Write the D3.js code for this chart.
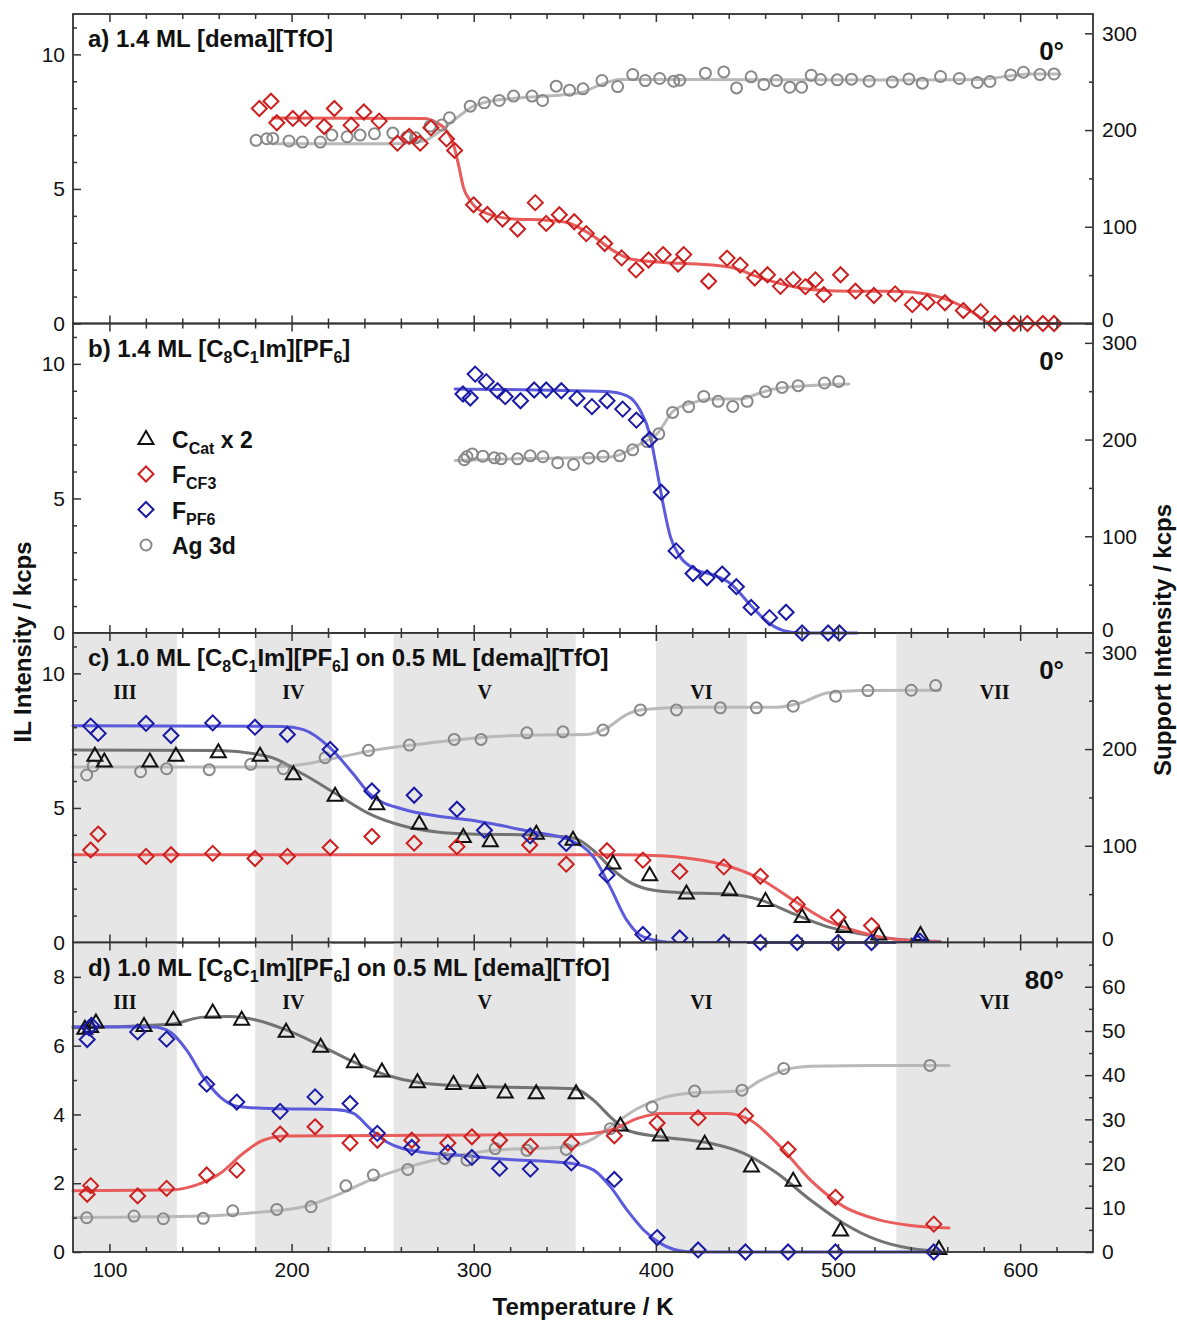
<!DOCTYPE html>
<html><head><meta charset="utf-8">
<script src="https://cdn.jsdelivr.net/npm/d3@7"></script>
<style>body{margin:0;background:#fff}svg{display:block;font-family:"Liberation Sans",Arial,sans-serif}</style>
</head><body><svg id="chart" width="1177" height="1321"></svg>
<script>
// ---------------- DATA ----------------
const xDomain=[80,640];
const xMajorTicks=[100,200,300,400,500,600];
const xMinorTicks=[120,140,160,180,220,240,260,280,320,340,360,380,420,440,460,480,520,540,560,580,620];
const stageBounds=[[80,137],[180,222],[256,356],[400,450],[532,640]];
const stageLabels=["III","IV","V","VI","VII"];
const legendLabels=[["C",["Cat"]," x 2"],["F",["CF3"]],["F",["PF6"]],["Ag 3d"]];

// panel a
const a_FCF3=[[182.3,7.99],[188.7,8.26],[191.9,7.46],[200.7,7.62],[207.6,7.62],[217.9,7.32],[223.5,7.99],[232.7,7.37],[239.7,7.86],[248.1,7.52],[258.1,6.70],[264.6,6.95],[270.6,6.70],[276.5,7.27],[285.1,6.86],[289.5,6.43],[299.9,4.41],[307.5,4.05],[315.8,3.88],[324.1,3.51],[333.8,4.49],[339.8,3.72],[347,4.04],[355.2,3.78],[361.8,3.34],[371.9,2.97],[381.2,2.44],[389.1,1.99],[396,2.36],[404,2.56],[412.2,2.21],[415.3,2.56],[429,1.57],[439.1,2.43],[446.3,2.17],[454.3,1.69],[461.3,1.81],[468.4,1.38],[475.4,1.64],[482.1,1.37],[487.6,1.62],[492.2,1.07],[501.4,1.81],[509.6,1.20],[519.7,1.04],[531.4,1.10],[540.8,0.70],[549,0.79],[558.7,0.77],[568.8,0.48],[578.3,0.44],[586.2,0],[596.6,0],[604,0],[612.5,0],[618.6,0]];
const a_FCF3_fit=[[189.7,7.64],[272.4,7.62],[279.8,7.46],[285.3,7.15],[288.9,6.65],[291.6,5.91],[294.4,5.05],[298.1,4.56],[303.6,4.2],[321.9,3.88],[340.2,3.84],[351.2,3.75],[364,3.32],[376.8,2.70],[386,2.40],[404.3,2.27],[422.6,2.21],[440.9,2.09],[459.2,1.66],[477.6,1.34],[495.9,1.22],[514.2,1.20],[534.4,1.19],[541.6,1.16],[556.3,0.97],[567.3,0.67],[576.5,0.30],[582,0.05],[586,0],[622,0]];
const a_Ag=[[180.5,189.4],[186.4,191],[189.7,191.4],[198.6,188.7],[205.9,187.6],[215.8,187.6],[222.1,194.8],[230.5,193.1],[237.6,194.8],[245.5,196.2],[255.6,196.9],[263.3,192.8],[268,192],[276.1,204.1],[282.5,205.2],[286.7,212.7],[298.1,224.7],[305.8,228.2],[314,230.6],[321.9,235.1],[332,235.1],[337.8,230.6],[345.3,245.4],[352.6,241.2],[360,242.6],[370.4,251.2],[379,245],[387.3,257.4],[394.2,251.2],[402.1,253.3],[409.8,250.5],[413.1,251.5],[427.2,258.8],[437.3,260.1],[444.3,243.6],[452.3,255],[459.3,247.1],[466.2,251.2],[473.5,244.3],[480,244.3],[485.3,256.7],[490.4,252.3],[499.6,251.9],[507.4,252.6],[517.1,250.5],[529.8,249.8],[538.9,252.9],[546.3,248.5],[556.3,255.4],[566.6,253.3],[576.5,249.2],[583.4,250.2],[594.8,257],[601.8,259.8],[610.9,257.4],[618.6,258]];
const a_Ag_fit=[[189.7,185.9],[254.1,185.9],[272.4,188.7],[281.6,199],[290.8,212.7],[299.9,224.7],[307.3,229.2],[321.9,232.7],[340.2,235.1],[358.5,238.5],[367.7,245.4],[380.5,252.3],[413.5,252.3],[534.4,251.8],[578.3,252.3],[592.9,255.7],[605.8,258],[622,258]];

// panel b
const b_FPF6=[[294.1,8.88],[298.1,8.73],[300.8,9.62],[306.9,9.34],[313.1,9.0],[317.3,8.78],[325.7,8.63],[333.2,9.03],[339.8,9.03],[348.1,9.0],[356.7,8.72],[364.9,8.41],[373.2,8.63],[381.8,8.32],[389.3,7.91],[396.6,7.19],[403,5.23],[411.1,3.05],[420.4,2.21],[428.1,2.05],[436.4,2.19],[444.2,1.72],[452.3,0.95],[462.4,0.57],[471.5,0.77],[480.3,0],[494.6,0],[500.8,0]];
const b_FPF6_fit=[[289.8,9.07],[373,8.97],[384.2,8.81],[391.5,8.26],[396.6,7.4],[400.6,6.04],[404.3,4.68],[408,3.57],[413.4,2.83],[420.8,2.4],[431.8,2.15],[440.9,1.84],[451.9,1.04],[461.1,0.42],[470.2,0.09],[480,0],[510.5,0]];
const b_Ag=[[294.8,179.1],[296.3,182.5],[299.2,185.2],[305,182.8],[311.3,181.1],[315,180.1],[324.1,180.1],[331,183.2],[338,182.2],[346.1,176],[354.8,174.2],[363.1,180.7],[371,182.8],[380.1,183.2],[387.3,189.4],[395.2,197.9],[401.6,205.9],[409.2,228.1],[418,234],[426.3,244.6],[434.2,239.5],[442.2,234.3],[450.1,239.5],[460.2,249.5],[469.3,253.9],[478.1,255.7],[492.6,258.5],[500.4,260.1]];
const b_Ag_fit=[[289.8,178.4],[330,180.5],[375,182],[391.5,195.6],[400.6,205.9],[409.8,229.9],[420.8,238.5],[431.8,242],[446.5,242],[455.6,247.1],[464.8,252.3],[483.1,255.7],[505.9,257.4]];

// panel c
const c_CCat=[[92,6.96],[97.2,6.74],[122.2,6.74],[136.5,6.96],[159.8,7.09],[182.7,6.96],[201,6.27],[223.9,5.47],[246.8,5.16],[270.1,4.43],[294.3,3.94],[309.1,3.78],[334.4,4.06],[354.5,3.84],[376.5,2.95],[396.6,2.52],[416.8,1.84],[440.5,1.96],[460.2,1.56],[480.3,0.97],[503.2,0.59],[522.4,0.32],[545.3,0.3]];
const c_CCat_fit=[[80,7.15],[160,7.13],[188.2,6.89],[206.5,6.25],[224.8,5.51],[243.1,4.77],[261.4,4.33],[279.8,4.11],[298.1,4.03],[330,4.0],[354.8,3.88],[365.9,3.41],[375,2.79],[384.2,2.30],[395.2,1.99],[411.6,1.86],[439,1.80],[457.4,1.58],[475.7,1.06],[494,0.59],[512.3,0.32],[530,0.14],[556,0.04]];
const c_FCF3=[[89.7,3.44],[93.8,4.03],[120.1,3.20],[133.8,3.26],[156.7,3.31],[179.9,3.12],[197.7,3.20],[221.2,3.53],[244.1,3.94],[267.3,3.69],[290.8,3.56],[330.7,3.62],[350.8,2.91],[373.2,3.41],[392.9,3.06],[413.1,2.64],[437.3,2.81],[457.4,2.46],[477.6,1.41],[500.1,0.94],[518.4,0.63]];
const c_FCF3_fit=[[80,3.26],[380,3.26],[402.4,3.22],[420.8,3.10],[439,2.85],[457.4,2.36],[475.7,1.56],[494,0.81],[512.3,0.38],[523.3,0.2],[540,0.07],[556,0.02]];
const c_FPF6=[[89.7,8.04],[93.8,7.77],[120.1,8.14],[133.8,7.69],[156.7,8.16],[179.9,8.0],[197.7,7.73],[221.2,7.17],[244.1,5.63],[267.3,5.47],[290.8,4.95],[305.9,4.17],[331,3.96],[350.8,3.68],[373.2,2.51],[392.9,0.30],[413.1,0.17],[437.3,0],[457.4,0],[477.6,0],[500.1,0],[518.4,0],[543.5,0],[545,0.05]];
const c_FPF6_fit=[[80,8.05],[195,8.03],[206.5,7.91],[221.2,7.23],[234,6.25],[243.1,5.51],[261.4,4.95],[279.8,4.70],[298.1,4.55],[310.9,4.40],[329.2,4.15],[353,3.80],[365.9,3.16],[375,2.05],[384.2,0.81],[393.3,0.2],[411,0],[556,0]];
const c_Ag=[[87.5,173.2],[91.1,182.5],[117.1,176.6],[131.4,179.7],[154.8,178.7],[177.6,184.2],[195.5,179.7],[218.4,191],[242.2,198.7],[264.7,204.1],[289.3,210],[304,210],[329.2,216.8],[349,217.8],[371,219.6],[391.5,240.5],[411.3,240.5],[435.4,242.6],[455.2,242.6],[475.4,244.3],[498.7,254.6],[516.4,260.5],[540.2,260.8],[553.6,265.7]];
const c_Ag_fit=[[80,181.4],[190,181.4],[206.5,184.2],[224.8,191],[243.1,197.9],[261.4,203.1],[279.8,207.2],[298.1,211],[329.2,214.4],[362,215.1],[373.2,222],[384.2,235.8],[393.3,240.9],[420.8,243.3],[466.6,243.3],[479.4,247.7],[494,258],[512.3,260.5],[556,260.8]];

// panel d
const d_CCat=[[86.5,6.51],[89.7,6.56],[92.6,6.69],[119,6.59],[135.1,6.77],[156.7,6.98],[172.6,6.77],[197,6.42],[216,5.98],[234.5,5.53],[249.6,5.26],[269.1,4.95],[288.9,4.90],[302.1,4.93],[317.3,4.65],[334.3,4.63],[356.2,4.63],[380.5,3.69],[402.5,3.40],[426.8,3.16],[452.5,2.50],[475.4,2.09],[501.4,0.64],[555.4,0.1]];
const d_CCat_fit=[[80,6.52],[133.2,6.62],[151.5,6.83],[166.2,6.85],[180.9,6.74],[197.4,6.45],[215.7,6.01],[234,5.53],[252.3,5.14],[270.6,4.92],[298.1,4.82],[354.8,4.75],[365.9,4.41],[375,3.93],[384.2,3.54],[402.5,3.35],[430,3.16],[448.3,2.87],[466.6,2.29],[484.9,1.51],[503.2,0.83],[521.5,0.35],[540,0.1],[556.3,0.02]];
const d_FCF3=[[87.8,1.68],[89.7,1.93],[115.5,1.63],[131.4,1.85],[153.4,2.24],[169.9,2.38],[193.7,3.43],[212.9,3.64],[232.1,3.17],[247.1,3.25],[266,3.25],[285.8,3.17],[299,3.35],[314.2,3.25],[331.1,3.08],[353.6,3.17],[377.2,3.38],[400.7,3.75],[423.2,3.90],[449.2,3.96],[472.6,2.98],[498.6,1.59],[552.6,0.81]];
const d_FCF3_fit=[[80,1.78],[133.2,1.80],[147.9,1.95],[160.7,2.28],[173.5,2.87],[184.5,3.25],[197.4,3.37],[298.1,3.40],[356.7,3.42],[375,3.54],[389.7,3.88],[402.5,4.03],[439.1,4.03],[452,3.83],[466.6,3.16],[484.9,2.09],[503.2,1.32],[521.5,0.95],[540,0.77],[561,0.70]];
const d_FPF6=[[87.8,6.18],[88.9,6.52],[90.2,6.59],[115.5,6.40],[131.4,6.19],[153.4,4.88],[169.9,4.36],[193.7,4.09],[212.9,4.51],[232.1,4.32],[247.1,3.45],[266,3.04],[285.8,2.89],[299,2.75],[314.2,2.43],[331.1,2.41],[353.6,2.59],[377.2,2.11],[400.7,0.42],[423.2,0.06],[449.2,0],[472.6,0],[498.6,0],[552.6,0]];
const d_FPF6_fit=[[80,6.55],[124.1,6.54],[133.2,6.40],[142.4,5.87],[151.5,5.09],[160.7,4.51],[169.9,4.24],[188.2,4.17],[224.8,4.14],[234,4.03],[243.1,3.59],[252.3,3.20],[270.6,2.91],[298.1,2.79],[310.9,2.72],[353,2.58],[365.9,2.38],[375,1.90],[384.2,1.22],[393.3,0.64],[402.5,0.25],[417.1,0.01],[425,0],[556,0]];
const d_Ag=[[87.5,7.75],[113.5,8.13],[129.6,7.52],[151.5,7.61],[167.7,9.33],[191.9,9.64],[210.7,10.23],[229.8,14.97],[244.9,17.39],[263.8,18.67],[284,21.16],[296.3,20.77],[311.8,23.4],[329.2,23.0],[350.8,23.2],[375,27.9],[397.9,32.8],[421.3,36.4],[447.3,36.6],[470.2,41.5],[550.5,42.2]];
const d_Ag_fit=[[80,7.8],[151.5,8.13],[179,8.87],[206.5,10.23],[224.8,12.87],[243.1,16.26],[261.4,18.9],[279.8,20.93],[298.1,22.29],[310.9,23.0],[353,23.8],[365.9,25.7],[375,28.3],[389.7,32.4],[402.5,34.7],[420.8,36.0],[446.5,36.4],[457.4,38.8],[470.2,41.1],[484.9,42.0],[523.3,42.2],[561,42.2]];

// tick values per axis type
const leftTicksA=[0,5,10], leftMinorA=[1,2,3,4,6,7,8,9,11];
const rightTicksA=[0,100,200,300], rightMinorA=[50,150,250];
const leftTicksD=[0,2,4,6,8], leftMinorD=[1,3,5,7];
const rightTicksD=[0,10,20,30,40,50,60], rightMinorD=[5,15,25,35,45,55,65];

// ---------------- STYLE / LAYOUT ----------------
const col={
  red:{m:"#cc1f1f",l:"#e85c5c"},
  blue:{m:"#1a1aa6",l:"#5b5bdc"},
  black:{m:"#111111",l:"#737373"},
  gray:{m:"#888888",l:"#b9b9b9"}
};
const X0=73,X1=1093,TOP=14,PH=309.5;
const svg=d3.select("#chart");
const x=d3.scaleLinear().domain(xDomain).range([X0,X1]);

const panels=[
 {title:["a) 1.4 ML [dema][TfO]"],angle:"0°",yl:[0,11.5],yr:[0,320],lt:leftTicksA,lm:leftMinorA,rt:rightTicksA,rm:rightMinorA,stages:false,
  series:[{d:a_Ag,f:a_Ag_fit,s:"circle",c:"gray",r:true},{d:a_FCF3,f:a_FCF3_fit,s:"diamond",c:"red"}]},
 {title:["b) 1.4 ML [C",["8"],"C",["1"],"Im][PF",["6"],"]"],angle:"0°",yl:[0,11.5],yr:[0,320],lt:leftTicksA,lm:leftMinorA,rt:rightTicksA,rm:rightMinorA,stages:false,legend:true,
  series:[{d:b_Ag,f:b_Ag_fit,s:"circle",c:"gray",r:true},{d:b_FPF6,f:b_FPF6_fit,s:"diamond",c:"blue"}]},
 {title:["c) 1.0 ML [C",["8"],"C",["1"],"Im][PF",["6"],"] on 0.5 ML [dema][TfO]"],angle:"0°",yl:[0,11.5],yr:[0,320],lt:leftTicksA,lm:leftMinorA,rt:rightTicksA,rm:rightMinorA,stages:true,
  series:[{d:c_Ag,f:c_Ag_fit,s:"circle",c:"gray",r:true},{d:c_CCat,f:c_CCat_fit,s:"triangle",c:"black"},{d:c_FCF3,f:c_FCF3_fit,s:"diamond",c:"red"},{d:c_FPF6,f:c_FPF6_fit,s:"diamond",c:"blue"}]},
 {title:["d) 1.0 ML [C",["8"],"C",["1"],"Im][PF",["6"],"] on 0.5 ML [dema][TfO]"],angle:"80°",yl:[0,9],yr:[0,70],lt:leftTicksD,lm:leftMinorD,rt:rightTicksD,rm:rightMinorD,stages:true,
  series:[{d:d_Ag,f:d_Ag_fit,s:"circle",c:"gray",r:true},{d:d_CCat,f:d_CCat_fit,s:"triangle",c:"black"},{d:d_FCF3,f:d_FCF3_fit,s:"diamond",c:"red"},{d:d_FPF6,f:d_FPF6_fit,s:"diamond",c:"blue"}]}
];

function richText(sel,x0,y0,parts,size,subSize,shift){
  const t=sel.append("text").attr("x",x0).attr("y",y0).attr("font-size",size).attr("font-weight","bold").attr("fill","#111");
  let sub=false;
  parts.forEach(p=>{
    if(Array.isArray(p)){
      t.append("tspan").attr("dy",sub?0:shift).attr("font-size",subSize).text(p[0]);sub=true;
    }else{
      t.append("tspan").attr("dy",sub?-shift:0).text(p);sub=false;
    }
  });
  return t;
}
function marker(g,type,cx,cy,color){
  let p;
  if(type==="diamond"){p=`M${cx},${cy-7.5}L${cx+7.5},${cy}L${cx},${cy+7.5}L${cx-7.5},${cy}Z`;
    g.append("path").attr("d",p).attr("fill","none").attr("stroke",color).attr("stroke-width",2);}
  else if(type==="triangle"){p=`M${cx},${cy-7.5}L${cx+7.5},${cy+5.5}L${cx-7.5},${cy+5.5}Z`;
    g.append("path").attr("d",p).attr("fill","none").attr("stroke",color).attr("stroke-width",2).attr("stroke-linejoin","miter");}
  else {g.append("circle").attr("cx",cx).attr("cy",cy).attr("r",5.5).attr("fill","none").attr("stroke",color).attr("stroke-width",2);}
}
function styleAxis(g){
  g.select(".domain").remove();
  g.selectAll(".tick line").attr("stroke","#333").attr("stroke-width",1.5);
  g.selectAll(".tick text").attr("font-size",21).attr("fill","#111").attr("font-family",'"Liberation Sans",Arial,sans-serif');
}

panels.forEach((p,i)=>{
  const top=TOP+i*PH,bot=top+PH;
  const yL=d3.scaleLinear().domain(p.yl).range([bot,top]);
  const yR=d3.scaleLinear().domain(p.yr).range([bot,top]);
  const g=svg.append("g");
  if(p.stages){
    stageBounds.forEach((b,k)=>{
      g.append("rect").attr("x",x(b[0])).attr("y",top).attr("width",x(b[1])-x(b[0])).attr("height",PH).attr("fill","#e6e6e6");
      g.append("text").attr("x",(x(b[0])+x(b[1]))/2).attr("y",top+66).attr("text-anchor","middle")
        .attr("font-family",'"Liberation Serif","Times New Roman",serif').attr("font-weight","bold").attr("font-size",20).attr("fill","#111").text(stageLabels[k]);
    });
  }
  const line=d3.line().x(d=>x(d[0])).curve(d3.curveMonotoneX);
  p.series.forEach(s=>{
    const ys=s.r?yR:yL;
    g.append("path").datum(s.f).attr("d",line.y(d=>ys(d[1]))).attr("fill","none").attr("stroke",col[s.c].l).attr("stroke-width",3).attr("stroke-linecap","round");
  });
  p.series.forEach(s=>{
    const ys=s.r?yR:yL;
    const mg=g.append("g");
    s.d.forEach(d=>marker(mg,s.s,x(d[0]),ys(d[1]),col[s.c].m));
  });
  // axes
  const xb=g.append("g").attr("transform",`translate(0,${bot})`).call(d3.axisBottom(x).tickValues(xMajorTicks).tickSize(-8).tickPadding(10).tickFormat(i===3?d3.format("d"):""));
  styleAxis(xb);
  styleAxis(g.append("g").attr("transform",`translate(0,${bot})`).call(d3.axisBottom(x).tickValues(xMinorTicks).tickSize(-5).tickFormat("")));
  styleAxis(g.append("g").attr("transform",`translate(0,${top})`).call(d3.axisTop(x).tickValues(xMajorTicks).tickSize(-8).tickFormat("")));
  styleAxis(g.append("g").attr("transform",`translate(0,${top})`).call(d3.axisTop(x).tickValues(xMinorTicks).tickSize(-5).tickFormat("")));
  styleAxis(g.append("g").attr("transform",`translate(${X0},0)`).call(d3.axisLeft(yL).tickValues(p.lt).tickSize(-8).tickPadding(8).tickFormat(d3.format("d"))));
  styleAxis(g.append("g").attr("transform",`translate(${X0},0)`).call(d3.axisLeft(yL).tickValues(p.lm).tickSize(-4).tickFormat("")));
  const ra=g.append("g").attr("transform",`translate(${X1},0)`).call(d3.axisRight(yR).tickValues(p.rt).tickSize(-8).tickPadding(9).tickFormat(d3.format("d")));
  styleAxis(ra);
  if(i<3) ra.selectAll(".tick text").filter(d=>d===0).attr("dy","0.15em");
  styleAxis(g.append("g").attr("transform",`translate(${X1},0)`).call(d3.axisRight(yR).tickValues(p.rm).tickSize(-4).tickFormat("")));
  g.append("rect").attr("x",X0).attr("y",top).attr("width",X1-X0).attr("height",PH).attr("fill","none").attr("stroke","#333").attr("stroke-width",1.8);
  // title and angle
  richText(g,88,top+33,p.title,24,16,6);
  g.append("text").attr("x",1064).attr("y",top+46).attr("text-anchor","end").attr("font-size",26).attr("font-weight","bold").attr("fill","#111").text(p.angle);
  if(p.legend){
    const types=["triangle","diamond","diamond","circle"],cols=["black","red","blue","gray"];
    legendLabels.forEach((lab,k)=>{
      const cy=top+115+k*35.5;
      marker(g,types[k],146,cy,col[cols[k]].m);
      richText(g,172,cy+9,lab,23,16,6);
    });
  }
});

// axis titles
svg.append("text").attr("transform","translate(31,642) rotate(-90)").attr("text-anchor","middle").attr("font-size",24).attr("font-weight","bold").attr("fill","#111").text("IL Intensity / kcps");
svg.append("text").attr("transform","translate(1171,640) rotate(-90)").attr("text-anchor","middle").attr("font-size",24).attr("font-weight","bold").attr("fill","#111").text("Support Intensity / kcps");
svg.append("text").attr("x",583).attr("y",1315).attr("text-anchor","middle").attr("font-size",24).attr("font-weight","bold").attr("fill","#111").text("Temperature / K");
</script></body></html>
